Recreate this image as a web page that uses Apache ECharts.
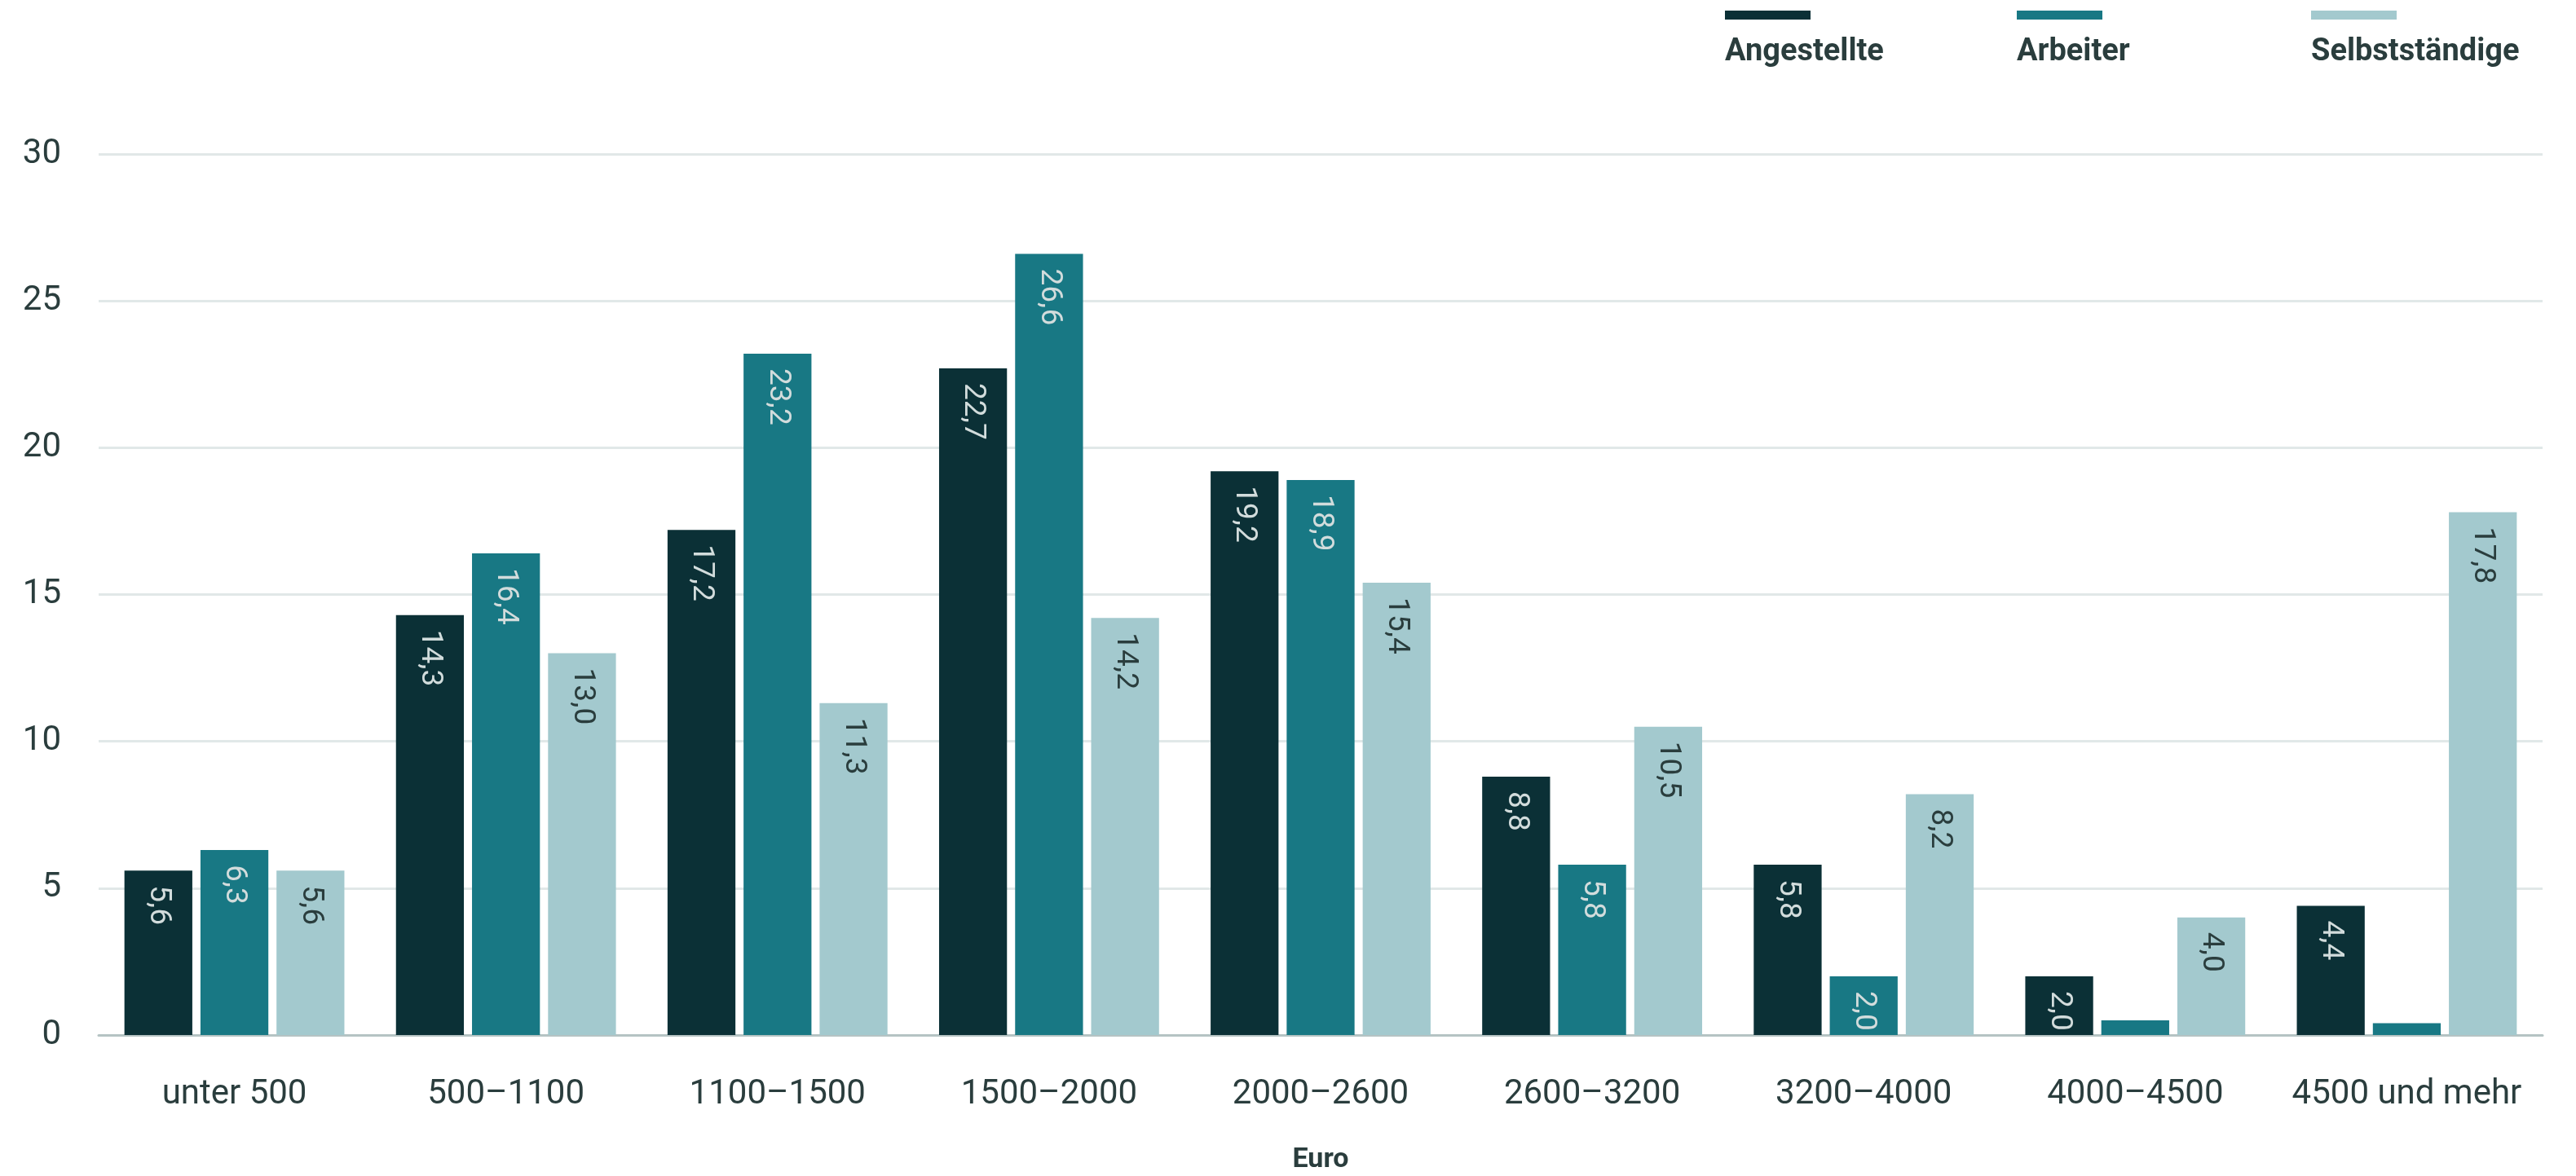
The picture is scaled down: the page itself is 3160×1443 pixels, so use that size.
<!DOCTYPE html>
<html><head><meta charset="utf-8">
<script src="https://cdn.jsdelivr.net/npm/echarts@6/dist/echarts.min.js"></script>
<style>html,body{margin:0;padding:0;background:#fff}#c{width:3160px;height:1443px}</style>
</head><body><div id="c"></div>
<script>
const categories = ['unter 500','500–1100','1100–1500','1500–2000','2000–2600','2600–3200','3200–4000','4000–4500','4500 und mehr'];
const angestellte = [5.6, 14.3, 17.2, 22.7, 19.2, 8.8, 5.8, 2.0, 4.4];
const arbeiter = [6.3, 16.4, 23.2, 26.6, 18.9, 5.8, 2.0, 0.5, 0.4];
const selbststaendige = [5.6, 13.0, 11.3, 14.2, 15.4, 10.5, 8.2, 4.0, 17.8];
const seriesNames = ['Angestellte','Arbeiter','Selbstständige'];
const yTicks = [0, 5, 10, 15, 20, 25, 30];
const colors = ['#0b3036','#187884','#a3c9ce'];
const labelColors = ['#d2dcdc','#d2dcdc','#2a3d3d'];
const FONT = 'Roboto';
const TXT = '#2a3d3d';

const chart = echarts.init(document.getElementById('c'));
const fmt = p => p.value < 1 ? '' : p.value.toFixed(1).replace('.', ',');
const datasets = [angestellte, arbeiter, selbststaendige];
const series = datasets.map((d, i) => ({
  name: seriesNames[i], type: 'bar', data: d,
  barGap: '12%', barCategoryGap: '19%',
  itemStyle: { color: colors[i] },
  label: { show: true, position: 'insideTop', rotate: -90, align: 'left', verticalAlign: 'middle',
    distance: 18, formatter: fmt, color: labelColors[i], fontFamily: FONT, fontSize: 37 }
}));
const legendX = [2116, 2474, 2835];
const graphic = [];
seriesNames.forEach((n, i) => {
  graphic.push({ type: 'rect', left: legendX[i], top: 13, shape: { width: 105, height: 11 }, style: { fill: colors[i] } });
  graphic.push({ type: 'text', left: legendX[i], top: 45, style: { text: n, fill: TXT, font: 'bold 38px ' + FONT, letterSpacing: 2.5 } });
});
chart.setOption({
  animation: false,
  grid: { left: 121, right: 41, top: 189, bottom: 173, outerBoundsMode: 'none', containLabel: false },
  graphic,
  xAxis: { type: 'category', data: categories,
    axisLine: { lineStyle: { color: '#b5c3c3', width: 3 } },
    axisTick: { show: false },
    axisLabel: { color: TXT, fontFamily: FONT, fontSize: 42, margin: 52, interval: 0 },
    name: 'Euro', nameLocation: 'middle', nameGap: 136,
    nameTextStyle: { color: TXT, fontFamily: FONT, fontSize: 34, fontWeight: 'bold' } },
  yAxis: { type: 'value', min: yTicks[0], max: yTicks[yTicks.length-1], interval: 5,
    axisLine: { show: false }, axisTick: { show: false },
    splitLine: { lineStyle: { color: '#e1e8e8', width: 3 } },
    axisLabel: { color: TXT, fontFamily: FONT, fontSize: 42, margin: 46 } },
  series
});
</script></body></html>
